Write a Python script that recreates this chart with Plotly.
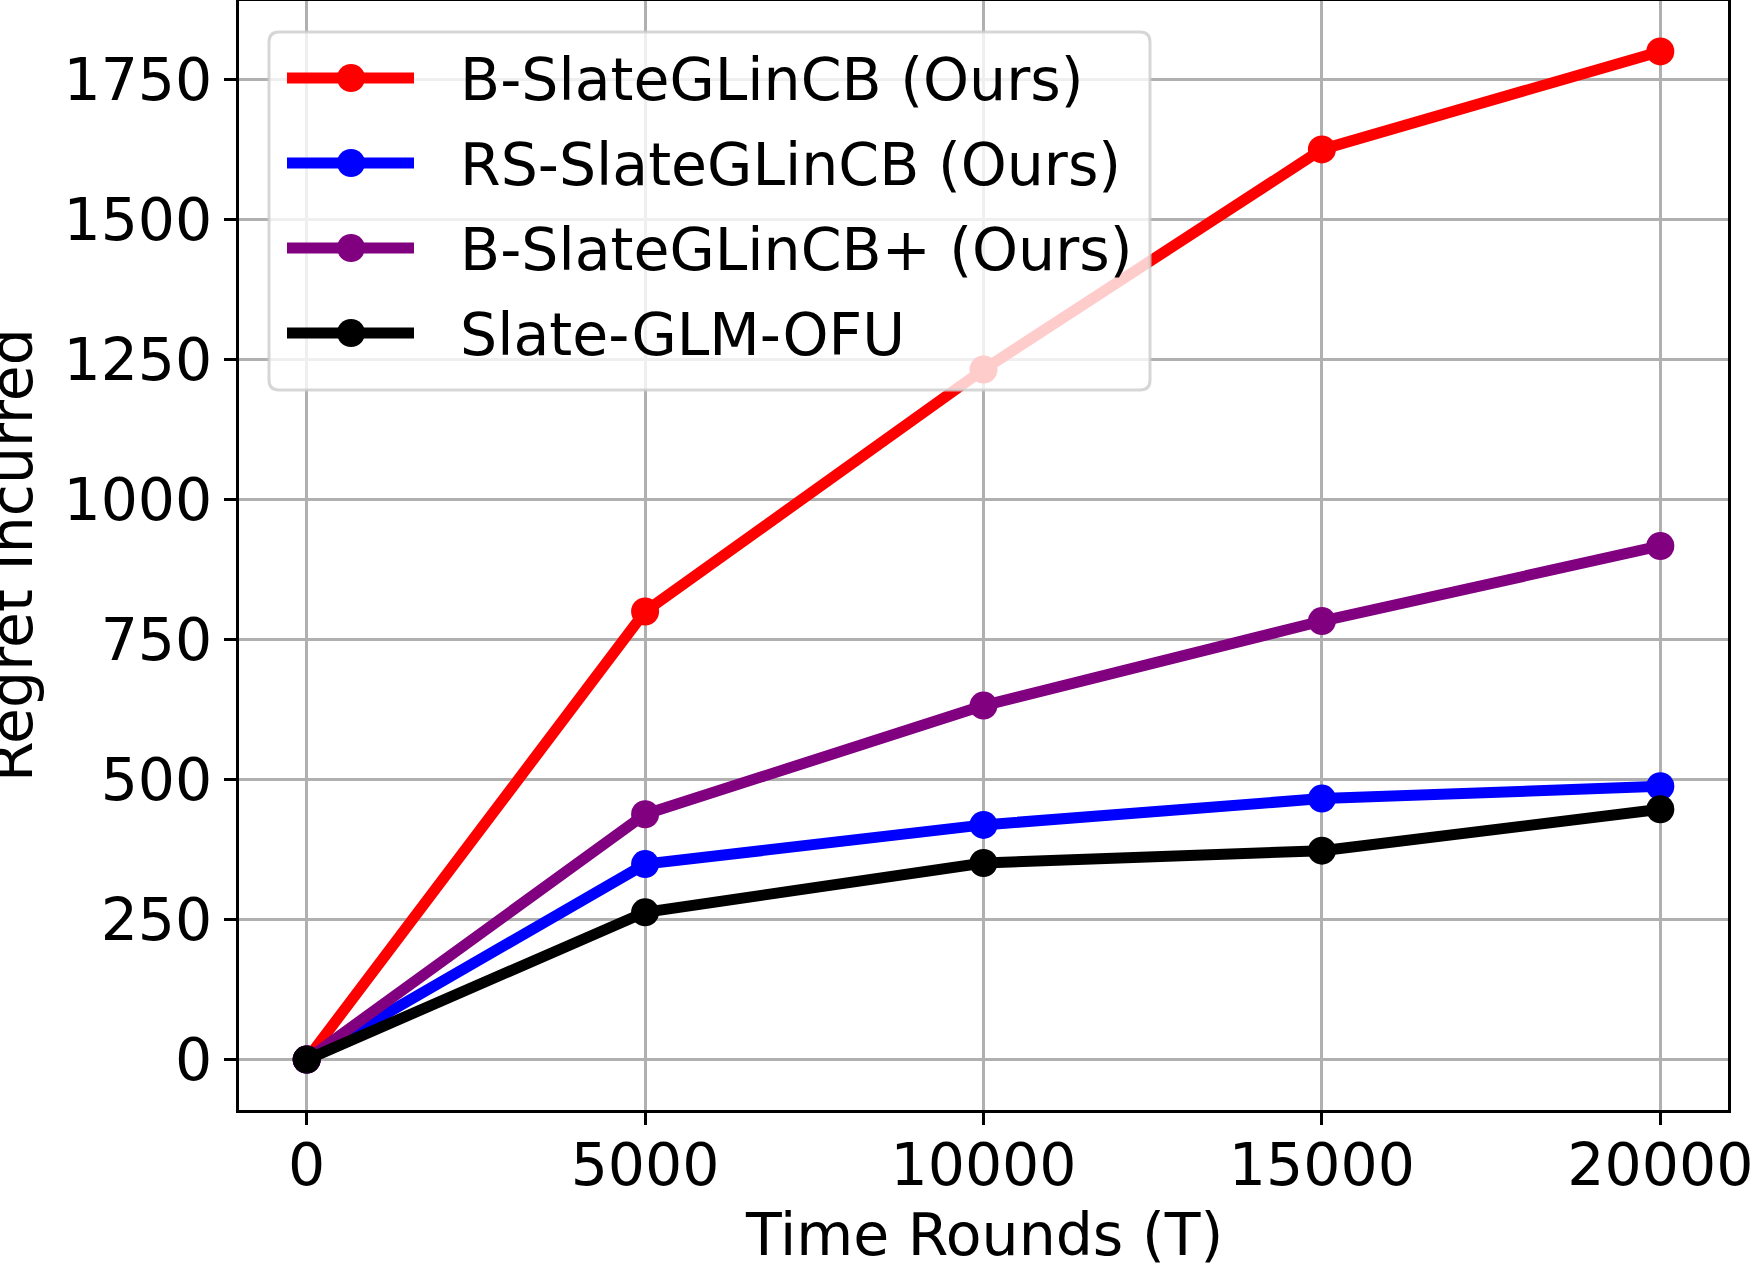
import plotly.graph_objects as go

rounds = [0, 5000, 10000, 15000, 20000]
b_slate = [0, 800, 1232, 1625, 1800]
rs_slate = [0, 349, 419, 466, 488]
b_slate_plus = [0, 438, 632, 783, 917]
slate_glm_ofu = [0, 263, 351, 373, 447]

series_names = ["B-SlateGLinCB (Ours)", "RS-SlateGLinCB (Ours)",
                "B-SlateGLinCB+ (Ours)", "Slate-GLM-OFU"]
series_values = [b_slate, rs_slate, b_slate_plus, slate_glm_ofu]
series_colors = ["#ff0000", "#0000ff", "#800080", "#000000"]

x_ticks = [0, 5000, 10000, 15000, 20000]
y_ticks = [0, 250, 500, 750, 1000, 1250, 1500, 1750]
x_title = "Time Rounds (T)"
y_title = "Regret Incurred"

FONT = "DejaVu Sans"
FS = 58.5
W, H = 1750, 1265
ML, MR, MT, MB = 239, 22, 1, 155
PW, PH = W - ML - MR, H - MT - MB
LW, MS = 11, 28

fig = go.Figure()
for name, vals, col in zip(series_names, series_values, series_colors):
    fig.add_trace(go.Scatter(
        x=rounds, y=vals, name=name, mode="lines+markers",
        line=dict(color=col, width=LW),
        marker=dict(color=col, size=MS),
        showlegend=False,
    ))

axis_common = dict(
    showline=True, linecolor="black", linewidth=3, mirror=True,
    showgrid=True, gridcolor="#b0b0b0", gridwidth=3,
    zeroline=False, ticks="outside", ticklen=12, tickwidth=3, tickcolor="black",
    tickfont=dict(family=FONT, size=FS, color="black"),
    ticklabeloverflow="allow", automargin=False,
)

# ---- helpers: pixel -> paper coordinates ----
def px(xp):
    return (xp - ML) / PW

def py(yp):
    return 1 - (yp - MT) / PH

shapes = []
annotations = []

# axis titles
annotations.append(dict(xref="paper", yref="paper", x=0.5, y=py(1235),
                        xanchor="center", yanchor="middle", showarrow=False,
                        text=x_title, font=dict(family=FONT, size=FS, color="black")))
annotations.append(dict(xref="paper", yref="paper", x=px(11.5), y=0.5,
                        xanchor="center", yanchor="middle", showarrow=False, textangle=-90,
                        text=y_title, font=dict(family=FONT, size=FS, color="black")))

# custom legend (matplotlib-style)
bx0, bx1, by0, by1, r = 269, 1150, 32, 390, 10
path = (f"M {px(bx0 + r)} {py(by0)} L {px(bx1 - r)} {py(by0)} "
        f"Q {px(bx1)} {py(by0)} {px(bx1)} {py(by0 + r)} "
        f"L {px(bx1)} {py(by1 - r)} Q {px(bx1)} {py(by1)} {px(bx1 - r)} {py(by1)} "
        f"L {px(bx0 + r)} {py(by1)} Q {px(bx0)} {py(by1)} {px(bx0)} {py(by1 - r)} "
        f"L {px(bx0)} {py(by0 + r)} Q {px(bx0)} {py(by0)} {px(bx0 + r)} {py(by0)} Z")
shapes.append(dict(type="path", xref="paper", yref="paper", path=path,
                   fillcolor="rgba(255,255,255,0.8)",
                   line=dict(color="rgba(204,204,204,0.8)", width=3), layer="above"))

row_y = [78, 163, 248, 333]
for name, col, ry in zip(series_names, series_colors, row_y):
    shapes.append(dict(type="line", xref="paper", yref="paper",
                       x0=px(287), x1=px(414), y0=py(ry), y1=py(ry),
                       line=dict(color=col, width=LW), layer="above"))
    rr = MS / 2
    shapes.append(dict(type="circle", xref="paper", yref="paper",
                       x0=px(351 - rr), x1=px(351 + rr), y0=py(ry + rr), y1=py(ry - rr),
                       fillcolor=col, line=dict(color=col, width=0), layer="above"))
    annotations.append(dict(xref="paper", yref="paper", x=px(458), y=py(ry + 2),
                            xanchor="left", yanchor="middle", showarrow=False,
                            text=name, font=dict(family=FONT, size=FS, color="black")))

fig.update_layout(
    width=W, height=H,
    margin=dict(l=ML, r=MR, t=MT, b=MB),
    paper_bgcolor="white", plot_bgcolor="white",
    font=dict(family=FONT, size=FS, color="black"),
    xaxis=dict(range=[-1000, 21000], tickvals=x_ticks,
               ticktext=[str(v) for v in x_ticks],
               ticklabelstandoff=-10,
               **axis_common),
    yaxis=dict(range=[-90, 1890], tickvals=y_ticks,
               ticktext=[str(v) for v in y_ticks],
               **axis_common),
    shapes=shapes,
    annotations=annotations,
    showlegend=False,
)

fig.write_html("out.html")
